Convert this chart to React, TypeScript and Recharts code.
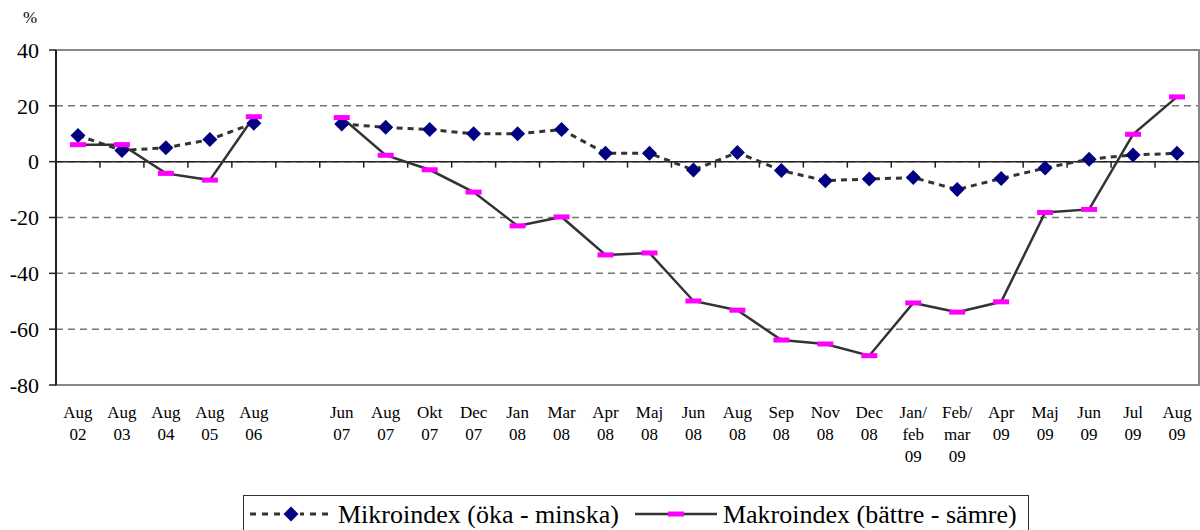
import { CartesianGrid, Legend, Line, LineChart, ReferenceArea, ReferenceLine, XAxis, YAxis } from "recharts"

// category labels, "" = the empty slot between Aug 06 and Jun 07
const categories = [
  "Aug\n02", "Aug\n03", "Aug\n04", "Aug\n05", "Aug\n06", "",
  "Jun\n07", "Aug\n07", "Okt\n07", "Dec\n07", "Jan\n08", "Mar\n08",
  "Apr\n08", "Maj\n08", "Jun\n08", "Aug\n08", "Sep\n08", "Nov\n08",
  "Dec\n08", "Jan/\nfeb\n09", "Feb/\nmar\n09", "Apr\n09", "Maj\n09",
  "Jun\n09", "Jul\n09", "Aug\n09",
]

const mikro = [
  9.4, 4, 5, 7.9, 13.8, null,
  13.5, 12.3, 11.5, 10, 10, 11.5,
  3, 3, -3, 3.3, -3.2, -6.8,
  -6.2, -5.7, -10, -6, -2.3,
  0.9, 2.4, 3,
]

const makro = [
  6.1, 6.1, -4.2, -6.6, 16.1, null,
  15.8, 2.3, -2.9, -10.9, -23, -19.8,
  -33.4, -32.7, -49.9, -53.2, -63.9, -65.3,
  -69.5, -50.6, -53.9, -50.2, -18.2,
  -17.1, 9.8, 23.2,
]

const yTicks = [-80, -60, -40, -20, 0, 20, 40]
const mikroName = "Mikroindex (öka - minska)"
const makroName = "Makroindex (bättre - sämre)"

const data = categories.map((label, i) => ({ label, mikro: mikro[i], makro: makro[i] }))

const FONT = "'Liberation Serif', 'Times New Roman', serif"
const NAVY = "#000080"
const MAGENTA = "#FF00FF"
const LINE = "#333333"

function CategoryTick({ x, y, payload }: any) {
  const lines = String(payload.value).split("\n")
  return (
    <text x={x} y={y} textAnchor="middle" fontFamily={FONT} fontSize={17} fill="#000">
      {lines.map((l, i) => (
        <tspan key={i} x={x} dy={i === 0 ? 33 : 22}>
          {l}
        </tspan>
      ))}
    </text>
  )
}

function Diamond(props: any) {
  const { cx, cy, index, value } = props
  if (value == null || cx == null || cy == null || isNaN(cy)) return <g key={`d${index}`} />
  const r = 7.5
  return (
    <polygon
      key={`d${index}`}
      points={`${cx},${cy - r} ${cx + r},${cy} ${cx},${cy + r} ${cx - r},${cy}`}
      fill={NAVY}
    />
  )
}

function Dash(props: any) {
  const { cx, cy, index, value } = props
  if (value == null || cx == null || cy == null || isNaN(cy)) return <g key={`m${index}`} />
  return <rect key={`m${index}`} x={cx - 8} y={cy - 2.5} width={16} height={5} fill={MAGENTA} />
}

// zero line with small tick marks at the category boundaries
function ZeroAxis(props: any) {
  const { x1, y1, x2, y2 } = props
  const step = (x2 - x1) / categories.length
  return (
    <g>
      <line x1={x1} y1={y1} x2={x2} y2={y2} stroke="#222" strokeWidth={1.5} />
      {categories.slice(1).map((_, i) => {
        const x = x1 + step * (i + 1)
        return <line key={i} x1={x} x2={x} y1={y1} y2={y1 + 6} stroke="#222" strokeWidth={1.5} />
      })}
    </g>
  )
}

function LegendBox() {
  return (
    <div
      style={{
        width: 786,
        height: 50,
        boxSizing: "border-box",
        border: "1px solid #333",
        display: "flex",
        alignItems: "flex-start",
        paddingLeft: 6,
        paddingTop: 4,
        fontFamily: FONT,
        fontSize: 26,
        lineHeight: "30px",
        color: "#000",
        background: "#fff",
      }}
    >
      <svg width={82} height={30} style={{ marginRight: 6 }}>
        <line x1={0} y1={14} x2={82} y2={14} stroke={LINE} strokeWidth={3} strokeDasharray="6 6" />
        <rect x={32} y={5} width={18} height={18} fill="#fff" />
        <polygon points="41,6.5 48.5,14 41,21.5 33.5,14" fill={NAVY} />
      </svg>
      <span style={{ whiteSpace: "nowrap" }}>{mikroName}</span>
      <svg width={82} height={30} style={{ marginLeft: 16, marginRight: 6 }}>
        <line x1={0} y1={14} x2={82} y2={14} stroke={LINE} strokeWidth={2.5} />
        <rect x={33} y={11.5} width={16} height={5} fill={MAGENTA} />
      </svg>
      <span style={{ whiteSpace: "nowrap" }}>{makroName}</span>
    </div>
  )
}

export default function App() {
  return (
    <div
      style={{
        position: "absolute",
        left: 0,
        top: 0,
        width: 1200,
        height: 530,
        overflow: "hidden",
        background: "#fff",
      }}
    >
      <LineChart width={1200} height={530} data={data} margin={{ top: 50, right: 1, bottom: 65, left: 0 }}>
        <CartesianGrid vertical={false} stroke="#777" strokeWidth={1.5} strokeDasharray="7 5" />
        <ReferenceArea y1={-80} y2={40} stroke="#888" strokeWidth={2} fill="none" fillOpacity={0} />
        <XAxis
          dataKey="label"
          scale="band"
          interval={0}
          axisLine={false}
          tickLine={false}
          tickSize={0}
          tickMargin={0}
          height={80}
          tick={<CategoryTick />}
        />
        <YAxis
          width={56}
          domain={[-80, 40]}
          ticks={yTicks}
          interval={0}
          axisLine={{ stroke: "#222", strokeWidth: 2 }}
          tickLine={{ stroke: "#222", strokeWidth: 1.5 }}
          tickSize={7}
          tickMargin={10}
          tick={{ fontFamily: FONT, fontSize: 22, fill: "#000" }}
          label={{
            content: () => (
              <text x={30} y={23} textAnchor="middle" fontFamily={FONT} fontSize={17} fill="#000">
                %
              </text>
            ),
          }}
        />
        <ReferenceLine y={0} shape={<ZeroAxis />} />
        <Line
          dataKey="mikro"
          name={mikroName}
          stroke={LINE}
          strokeWidth={3}
          strokeDasharray="6 5"
          dot={Diamond}
          activeDot={false}
          isAnimationActive={false}
        />
        <Line
          dataKey="makro"
          name={makroName}
          stroke={LINE}
          strokeWidth={2.5}
          dot={Dash}
          activeDot={false}
          isAnimationActive={false}
        />
        <Legend
          layout="horizontal"
          verticalAlign="middle"
          align="center"
          width={786}
          wrapperStyle={{ left: 243, top: 495, width: 786 }}
          content={() => <LegendBox />}
        />
      </LineChart>
    </div>
  )
}
